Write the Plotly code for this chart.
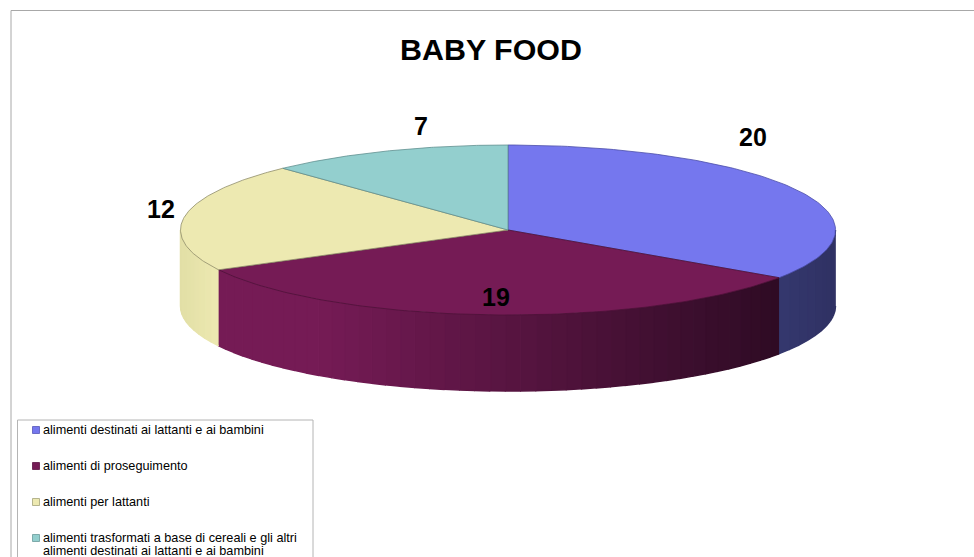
import numpy as np
import plotly.graph_objects as go

categories = ["alimenti destinati ai lattanti e ai bambini",
              "alimenti di proseguimento",
              "alimenti per lattanti",
              "alimenti trasformati a base di cereali e gli altri|alimenti destinati ai lattanti e ai bambini"]
values = [20, 19, 12, 7]
title_text = "BABY FOOD"

top_colors = ["#7577ee", "#751b55", "#ede9b1", "#93cfce"]
edge_colors = ["#4a4ca8", "#4e1239", "#8f8d6a", "#5f8f8f"]
side_left = ["#35386e", "#751b55", "#e2dfa6", "#93cfce"]
side_right = ["#2f3163", "#2e0b24", "#ede9b1", "#93cfce"]
swatch_edges = ["#5557b8", "#5a1342", "#a5a37a", "#6a9a9a"]
label_x = [753, 496, 161, 421]
label_y = [140, 300, 212, 129]
legend_y = [430, 466, 502, 538]

CX, CY, RX, RY, DEPTH = 508.0, 230.0, 327.5, 85.0, 76.0
LEGEND_FONT = dict(family="Liberation Sans", size=12.7, color="#000000")


def px(t):
    return CX + RX * np.sin(t)


def py(t, d=0.0):
    return CY - RY * np.cos(t) + d


def mix(a, b, f):
    ca = [int(a[i:i + 2], 16) for i in (1, 3, 5)]
    cb = [int(b[i:i + 2], 16) for i in (1, 3, 5)]
    return "rgb(%d,%d,%d)" % tuple(round(u + (v - u) * f) for u, v in zip(ca, cb))


fractions = np.cumsum([0] + values) / sum(values)
angles = fractions * 2 * np.pi
fig = go.Figure()

# outer walls
for i in range(len(values)):
    a0, a1 = angles[i], angles[i + 1]
    lo, hi = max(a0, np.pi / 2), min(a1, 3 * np.pi / 2)
    if lo >= hi:
        continue
    n = 44 if i == 1 else 10
    edges = np.linspace(lo, hi, n + 1)
    x_lo, x_hi = px(edges).min(), px(edges).max()
    for j in range(n):
        t = np.linspace(edges[j], edges[j + 1], 6)
        xs = np.r_[px(t), px(t[::-1])]
        ys = np.r_[py(t), py(t[::-1], DEPTH)]
        mx = (px(edges[j]) + px(edges[j + 1])) / 2
        f = (mx - x_lo) / (x_hi - x_lo)
        if i == 1:
            f = max(0.0, (f - 0.18) / 0.82)
        c = mix(side_left[i], side_right[i], f)
        fig.add_trace(go.Scatter(x=xs, y=ys, mode="lines", fill="toself", fillcolor=c,
                                 line=dict(color=c, width=1.5), hoverinfo="skip",
                                 showlegend=False))

# top faces
for i, v in enumerate(values):
    t = np.linspace(angles[i], angles[i + 1], 120)
    xs = np.r_[CX, px(t), CX]
    ys = np.r_[CY, py(t), CY]
    fig.add_trace(go.Scatter(x=xs, y=ys, mode="lines", fill="toself", fillcolor=top_colors[i],
                             line=dict(color=edge_colors[i], width=0.8), hoverinfo="skip",
                             showlegend=False))

# value labels
fig.add_trace(go.Scatter(x=label_x, y=label_y, mode="text", text=[str(v) for v in values],
                         textposition="middle center", hoverinfo="skip", showlegend=False,
                         textfont=dict(family="Liberation Sans", size=25, color="#000000",
                                       weight="bold")))

# legend drawn in the plot: swatches and their texts
fig.add_trace(go.Scatter(x=[36] * len(categories), y=legend_y, mode="markers",
                         hoverinfo="skip", showlegend=False,
                         marker=dict(symbol="square", size=7, color=top_colors,
                                     line=dict(color=swatch_edges, width=0.8))))
annotations = []
for name, yy in zip(categories, legend_y):
    for k, line in enumerate(name.split("|")):
        annotations.append(dict(x=40.5, y=yy + k * 12.5, xref="x", yref="y", text=line,
                                showarrow=False, xanchor="left", yanchor="middle",
                                font=LEGEND_FONT))

fig.update_layout(
    width=974, height=557, margin=dict(l=0, r=0, t=0, b=0, autoexpand=False),
    paper_bgcolor="#ffffff", plot_bgcolor="#ffffff",
    showlegend=False,
    xaxis=dict(range=[0, 974], visible=False, fixedrange=True),
    yaxis=dict(range=[557, 0], visible=False, fixedrange=True),
    title=dict(text="<b>%s</b>" % title_text, x=491 / 974, xanchor="center",
               y=1 - 49 / 557, yanchor="middle",
               font=dict(family="Liberation Sans", size=30.4, color="#000000")),
    annotations=annotations,
    shapes=[
        dict(type="line", xref="x", yref="y", x0=11, x1=974, y0=10.5, y1=10.5,
             line=dict(color="#a8a8a8", width=1)),
        dict(type="line", xref="x", yref="y", x0=11, x1=11, y0=10.5, y1=557,
             line=dict(color="#a8a8a8", width=1)),
        dict(type="rect", xref="x", yref="y", x0=17.5, x1=313, y0=420, y1=570,
             line=dict(color="#b4b4b4", width=1), fillcolor="rgba(0,0,0,0)", layer="below"),
    ],
)
fig.write_html("out.html", config={"displayModeBar": False},
               post_script="document.body.style.margin='0';")
